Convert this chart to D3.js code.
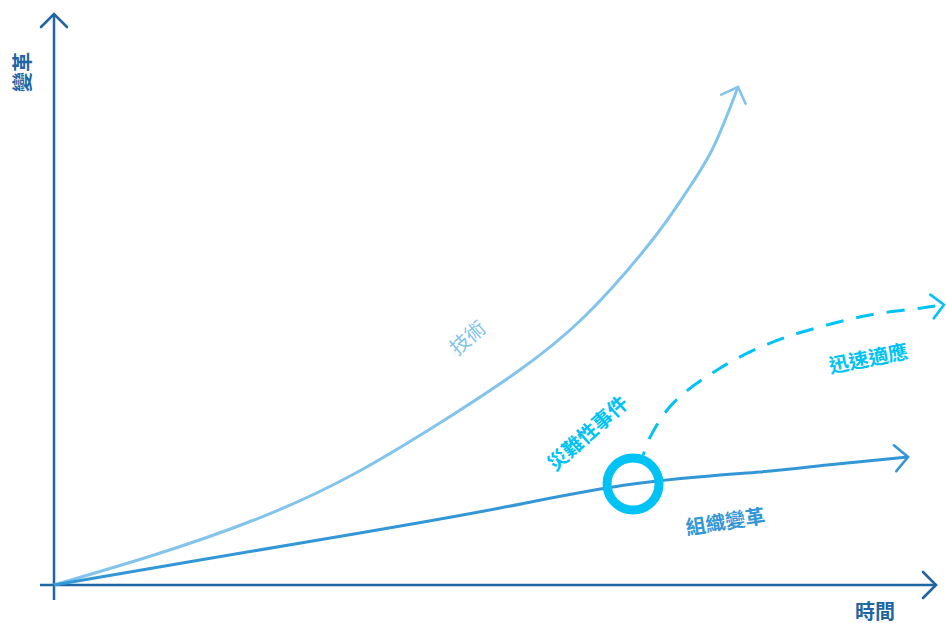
<!DOCTYPE html>
<html>
<head>
<meta charset="utf-8">
<script src="https://cdn.jsdelivr.net/npm/d3@7"></script>
<style>
  body { margin: 0; background: #fff; }
  svg { display: block; font-family: "Noto Sans CJK TC", "Noto Sans", sans-serif; }
</style>
</head>
<body>
<svg id="chart" width="946" height="623"></svg>
<script>
// time (0-100) vs change (0-100)
const techTime = [0, 11.34, 22.68, 34.01, 45.35, 52.49, 59.98, 67.57, 71.32, 74.6, 77.55];
const techChange = [0, 5.24, 11.36, 19.41, 29.9, 37.24, 46.68, 59.79, 67.83, 76.05, 87.06];

const orgTime = [0, 16.55, 34.01, 50.57, 65.65, 80.05, 87.64, 96.83];
const orgChange = [0, 4.37, 8.92, 13.46, 17.66, 19.76, 20.98, 22.38];

const adaptTime = [66.8, 67.6, 70.2, 75.5, 81.2, 86.8, 92.5, 98.2, 100.9];
const adaptChange = [22.7, 25.9, 31.8, 37.9, 42.3, 45.1, 47.2, 48.4, 49.0];

const eventPoint = [65.65, 17.66];

const labels = [
  { text: "技術", t: 46.8, c: 43.4, angle: -41, color: "#82c4ec", weight: 400 },
  { text: "災難性事件", t: 60.4, c: 26.7, angle: -42, color: "#00c3f5", weight: 700 },
  { text: "迅速適應", t: 92.3, c: 39.8, angle: -11, color: "#00c3f5", weight: 700 },
  { text: "組織變革", t: 76.1, c: 11.3, angle: -9, color: "#3397d6", weight: 700 },
];

const svg = d3.select("#chart");
const x = d3.scaleLinear().domain([0, 100]).range([54, 936]);
const y = d3.scaleLinear().domain([0, 100]).range([585, 13]);

const axisColor = "#1f66a3";

// arrow markers
const defs = svg.append("defs");
const addMarker = (id, color, size) => {
  defs.append("marker")
    .attr("id", id)
    .attr("markerUnits", "userSpaceOnUse")
    .attr("viewBox", "-20 -20 40 40")
    .attr("refX", 0)
    .attr("refY", 0)
    .attr("markerWidth", 40)
    .attr("markerHeight", 40)
    .attr("orient", "auto")
    .append("path")
    .attr("d", `M${-size},${-size}L0,0L${-size},${size}`)
    .attr("fill", "none")
    .attr("stroke", color)
    .attr("stroke-width", 2.6)
    .attr("stroke-linecap", "round");
};
addMarker("arrAxis", axisColor, 13);
addMarker("arrTech", "#82c4ec", 13);
addMarker("arrOrg", "#3397d6", 13);
addMarker("arrAdapt", "#00c3f5", 12);

// axes
svg.append("line")
  .attr("x1", x(0)).attr("y1", 600)
  .attr("x2", x(0)).attr("y2", y(100) + 1)
  .attr("stroke", axisColor).attr("stroke-width", 2.5)
  .attr("marker-end", "url(#arrAxis)");
svg.append("line")
  .attr("x1", 40).attr("y1", y(0))
  .attr("x2", x(100)).attr("y2", y(0))
  .attr("stroke", axisColor).attr("stroke-width", 2.5)
  .attr("marker-end", "url(#arrAxis)");

svg.append("text")
  .attr("transform", `translate(21,72) rotate(-90)`)
  .attr("text-anchor", "middle")
  .attr("dominant-baseline", "central")
  .attr("font-size", 20)
  .attr("font-weight", 700)
  .attr("fill", axisColor)
  .text("變革");
svg.append("text")
  .attr("x", 875).attr("y", 610)
  .attr("text-anchor", "middle")
  .attr("dominant-baseline", "central")
  .attr("font-size", 20)
  .attr("font-weight", 700)
  .attr("fill", axisColor)
  .text("時間");

const smooth = d3.line()
  .x((d) => x(d[0]))
  .y((d) => y(d[1]))
  .curve(d3.curveNatural);

const line = d3.line()
  .x((d) => x(d[0]))
  .y((d) => y(d[1]))
  .curve(d3.curveCatmullRom.alpha(0.5));

svg.append("path")
  .datum(d3.zip(techTime, techChange))
  .attr("d", smooth)
  .attr("fill", "none")
  .attr("stroke", "#82c4ec")
  .attr("stroke-width", 3)
  .attr("marker-end", "url(#arrTech)");

svg.append("path")
  .datum(d3.zip(orgTime, orgChange))
  .attr("d", smooth)
  .attr("fill", "none")
  .attr("stroke", "#3397d6")
  .attr("stroke-width", 3)
  .attr("marker-end", "url(#arrOrg)");

svg.append("path")
  .datum(d3.zip(adaptTime, adaptChange))
  .attr("d", line)
  .attr("fill", "none")
  .attr("stroke", "#00c3f5")
  .attr("stroke-width", 3)
  .attr("stroke-dasharray", "18,13")
  .attr("stroke-dashoffset", 14)
  .attr("marker-end", "url(#arrAdapt)");

svg.append("circle")
  .attr("cx", x(eventPoint[0]))
  .attr("cy", y(eventPoint[1]))
  .attr("r", 26)
  .attr("fill", "none")
  .attr("stroke", "#00c3f5")
  .attr("stroke-width", 9);

svg.selectAll("text.lbl")
  .data(labels)
  .join("text")
  .attr("class", "lbl")
  .attr("transform", (d) => `translate(${x(d.t)},${y(d.c)}) rotate(${d.angle})`)
  .attr("text-anchor", "middle")
  .attr("dominant-baseline", "central")
  .attr("font-size", 20)
  .attr("font-weight", (d) => d.weight)
  .attr("fill", (d) => d.color)
  .text((d) => d.text);
</script>
</body>
</html>
